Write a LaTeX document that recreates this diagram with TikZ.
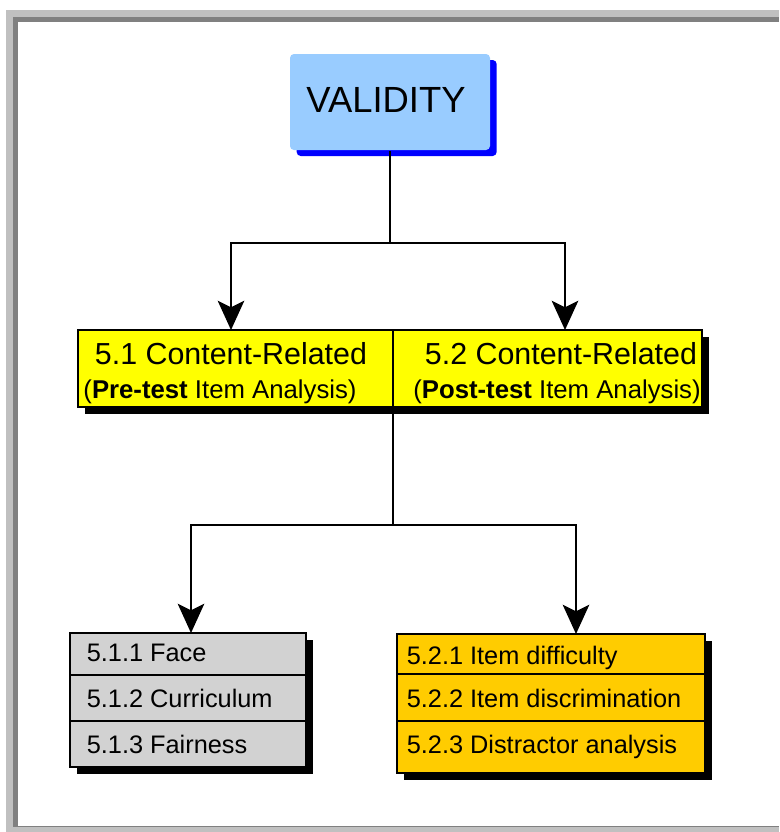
\documentclass[tikz,border=0pt]{standalone}
\usepackage{fontspec}
\setmainfont{Liberation Sans}
\usetikzlibrary{arrows.meta,fit,shadows}
\definecolor{validityBlue}{RGB}{153,204,255}
\definecolor{contentYellow}{RGB}{255,255,0}
\definecolor{itemOrange}{RGB}{255,204,0}
\definecolor{faceGray}{RGB}{210,210,210}
\definecolor{frameLight}{RGB}{192,192,192}
\definecolor{frameDark}{RGB}{128,128,128}
\tikzset{
	topbox/.style={fill=validityBlue,rounded corners=3pt,inner sep=0pt,
		drop shadow={fill=blue,opacity=1,shadow xshift=5pt,shadow yshift=-4.5pt}},
	framebox/.style={draw=black,line width=0.8pt,inner sep=0pt,
		drop shadow={fill=black,opacity=1,shadow xshift=5.5pt,shadow yshift=-5.5pt}},
	arr/.style={-{Stealth[length=22pt,width=20pt,inset=5pt,fill=black,line width=1pt]}},
	titlefont/.style={font=\fontsize{27.3}{32}\selectfont},
	headfont/.style={font=\fontsize{22.8}{27}\selectfont},
	subfont/.style={font=\fontsize{19.3}{23}\selectfont},
	itemfont/.style={font=\fontsize{19}{23}\selectfont},
}
\begin{document}
\begin{tikzpicture}[x=0.75pt,y=-0.75pt,line width=1.2pt]
	\useasboundingbox (0,0) rectangle (779,832);
	% window frame
	\fill[frameLight] (6,10) rectangle (779,832);
	\fill[frameDark] (13,17) rectangle (779,827);
	\fill[white] (18,22) rectangle (779,826);
	% boxes
	\node[topbox,fit={(290,54)(490,150)}] (validity) {};
	\node[framebox,fill=contentYellow,fit={(78,330)(393,407)}] (pre) {};
	\node[framebox,fill=contentYellow,fit={(393,330)(702,407)}] (post) {};
	\node[framebox,fill=faceGray,fit={(70,633)(306,767)}] (pretestList) {};
	\node[framebox,fill=itemOrange,fit={(397,634)(705,773)}] (posttestList) {};
	\foreach \y in {675,721}{
		\draw[line width=0.8pt] (pretestList.west |- 0,\y) -- (pretestList.east |- 0,\y);
	}
	\foreach \y in {674,721}{
		\draw[line width=0.8pt] (posttestList.west |- 0,\y) -- (posttestList.east |- 0,\y);
	}
	% texts
	\node[titlefont,anchor=base,inner sep=0pt] (validityText) at (386,112) {VALIDITY};
	\node[headfont,anchor=base,inner sep=0pt] (preHead) at (231,364) {5.1 Content-Related};
	\node[subfont,anchor=base,inner sep=0pt] (preSub) at (220,398) {(\textbf{Pre-test} Item Analysis)};
	\node[headfont,anchor=base,inner sep=0pt] (postHead) at (561,364) {5.2 Content-Related};
	\node[subfont,anchor=base,inner sep=0pt] (postSub) at (557,398) {(\textbf{Post-test} Item Analysis)};
	\foreach \t/\y [count=\i] in {5.1.1 Face/661,5.1.2 Curriculum/707,5.1.3 Fairness/753}{
		\node[itemfont,anchor=base west,inner sep=0pt] (preItem\i) at (86,\y) {\t};
	}
	\foreach \t/\y [count=\i] in {5.2.1 Item difficulty/664,5.2.2 Item discrimination/707,5.2.3 Distractor analysis/753}{
		\node[itemfont,anchor=base west,inner sep=0pt] (postItem\i) at (406,\y) {\t};
	}
	% connectors
	\coordinate (splitTop) at (390,243);
	\coordinate (preIn) at (231,330);
	\coordinate (postIn) at (565,330);
	\draw (validity.south) -- (splitTop);
	\draw[arr] (splitTop) -| (preIn);
	\draw[arr] (splitTop) -| (postIn);
	\coordinate (splitLow) at (393,525);
	\coordinate (faceIn) at (191,633);
	\coordinate (itemIn) at (576,634);
	\draw (splitLow |- pre.south) -- (splitLow);
	\draw[arr] (splitLow) -| (faceIn);
	\draw[arr] (splitLow) -| (itemIn);
\end{tikzpicture}
\end{document}
